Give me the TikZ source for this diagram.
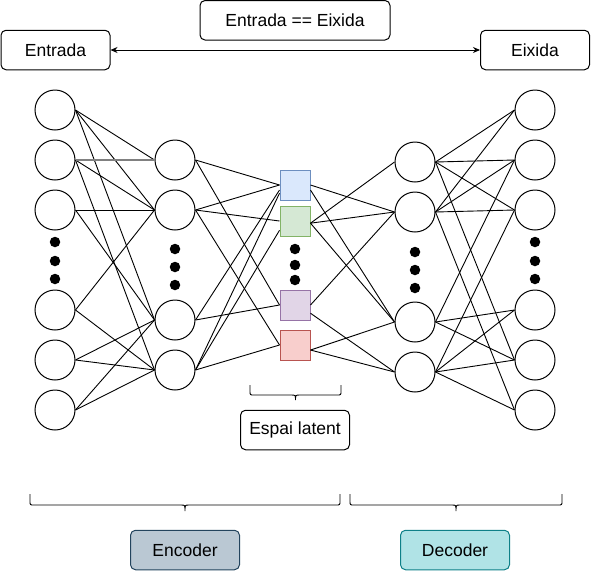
\documentclass[tikz,border=0pt]{standalone}
\usepackage{fontspec}
\setmainfont{Liberation Sans}
\usetikzlibrary{arrows.meta}
\definecolor{bluefill}{HTML}{DAE8FC}\definecolor{bluedraw}{HTML}{6C8EBF}
\definecolor{greenfill}{HTML}{D5E8D4}\definecolor{greendraw}{HTML}{82B366}
\definecolor{purplefill}{HTML}{E1D5E7}\definecolor{purpledraw}{HTML}{9673A6}
\definecolor{redfill}{HTML}{F8CECC}\definecolor{reddraw}{HTML}{B85450}
\definecolor{encfill}{HTML}{BAC8D3}\definecolor{encdraw}{HTML}{23445D}
\definecolor{decfill}{HTML}{B0E3E6}\definecolor{decdraw}{HTML}{0E8088}
\definecolor{greyline}{HTML}{808080}
\begin{document}
\begin{tikzpicture}[x=1pt,y=-1pt,line width=1pt,
  neuron/.style={circle,draw,fill=white,minimum size=40pt,inner sep=0pt},
  lbox/.style={draw,rounded corners=5pt,minimum width=109pt,minimum height=39.5pt,inner sep=0pt,font=\fontsize{17.5}{20}\selectfont},
  lat/.style={draw,minimum size=30pt,inner sep=0pt},
  bigdot/.style={circle,fill=black,minimum size=10.5pt,inner sep=0pt},
  conn/.style={line width=0.9pt},
  bracestyle/.style={line width=0.9pt}]
\useasboundingbox (0,0) rectangle (591,571);
% connections first (drawn underneath the nodes)
\coordinate (I1c) at (55,110);
% neurons
\foreach \n/\y in {1/110,2/160,3/210,4/310,5/360,6/410} {
  \node[neuron] (I\n) at (55,\y) {};
  \node[neuron] (O\n) at (535,\y) {};
}
\foreach \n/\y in {1/160,2/210,3/320,4/370} \node[neuron] (H\n) at (175,\y) {};
\foreach \n/\y in {1/162,2/212,3/322,4/372} \node[neuron] (D\n) at (415,\y) {};
% latent
\node[lat,fill=bluefill,draw=bluedraw] (L1) at (295,185) {};
\node[lat,fill=greenfill,draw=greendraw] (L2) at (295,221) {};
\node[lat,fill=purplefill,draw=purpledraw] (L3) at (295,305) {};
\node[lat,fill=redfill,draw=reddraw] (L4) at (295,345) {};
% top boxes
\node[lbox] (entrada) at (55.5,50) {Entrada};
\node[lbox] (eixida) at (535,50) {Eixida};
\node[lbox,minimum width=190pt] (eq) at (295,20.25) {Entrada == Eixida};
\draw[conn,{Stealth[length=7pt,width=6pt]}-{Stealth[length=7pt,width=6pt]}] (entrada.east) -- (eixida.west);
% dots
\foreach \k/\y in {1/242,2/261,3/279} {
  \node[bigdot] (di\k) at (55,\y) {};
  \node[bigdot] (do\k) at (535,\y) {};
}
\foreach \k/\y in {1/249,2/267,3/285} \node[bigdot] (dh\k) at (175,\y) {};
\foreach \k/\y in {1/249,2/265,3/280} \node[bigdot] (dl\k) at (295,\y) {};
\foreach \k/\y in {1/252,2/270,3/288} \node[bigdot] (dd\k) at (415,\y) {};
% input -> hidden
\foreach \a/\b in {I1/H1,I1/H2,I1/H3,I2/H2,I2/H4,I3/H2,I3/H3,I4/H2,I4/H4,I5/H3,I5/H4,I6/H3,I6/H4}
  \draw[conn] (\a.east) -- (\b.west);
\draw[greyline,line width=1.7pt] (I2.east) -- (H1.west);
% hidden -> latent
\draw[conn] (H1.east) -- (L1.west);
\draw[conn] (H1.east) -- (L3.west);
\draw[conn] (H2.east) -- (L1.west);
\draw[conn] (H2.east) -- (L2.west);
\draw[conn] (H2.east) -- (L4.west);
\draw[conn] (H3.east) -- (L1.198);
\draw[conn] (H3.east) -- (L3.west);
\draw[conn] (H4.east) -- (L1.208);
\draw[conn] (H4.east) -- (L2.211);
\draw[conn] (H4.east) -- (L4.west);
% latent -> decoder hidden
\draw[conn] (L1.east) -- (D2.west);
\draw[conn] (L1.-18) -- (D3.west);
\draw[conn] (L2.-8) -- (D1.west);
\draw[conn] (L2.-8) -- (D2.west);
\draw[conn] (L2.-8) -- (D3.west);
\draw[conn] (L3.east) -- (D2.west);
\draw[conn] (L3.-28) -- (D4.west);
\draw[conn] (L4.-18) -- (D3.west);
\draw[conn] (L4.-18) -- (D4.west);
% decoder hidden -> output
\foreach \a/\b in {D1/O1,D1/O2,D1/O3,D1/O5,D2/O1,D2/O2,D2/O3,D2/O6,D3/O2,D3/O4,D3/O5,D4/O3,D4/O4,D4/O5,D4/O6}
  \draw[conn] (\a.east) -- (\b.west);
% braces
\draw[bracestyle] (250,385) -- (250,391) .. controls (250,395) .. (254,395) -- (291,395) .. controls (295.5,395) .. (295.5,400) .. controls (295.5,395) .. (300,395) -- (337,395) .. controls (341,395) .. (341,391) -- (341,385);
\draw[bracestyle] (30,494) -- (30,501) .. controls (30,505) .. (34,505) -- (181,505) .. controls (185,505) .. (185,511) .. controls (185,505) .. (189,505) -- (336,505) .. controls (340,505) .. (340,501) -- (340,494);
\draw[bracestyle] (350,494) -- (350,501) .. controls (350,505) .. (354,505) -- (452,505) .. controls (456,505) .. (456,511) .. controls (456,505) .. (460,505) -- (558,505) .. controls (562,505) .. (562,501) -- (562,494);
% labels
\node[lbox] (latent) at (295,430) {Espai latent};
\node[lbox,fill=encfill,draw=encdraw] (enc) at (185,550) {Encoder};
\node[lbox,fill=decfill,draw=decdraw] (dec) at (455,550) {Decoder};
\end{tikzpicture}
\end{document}
